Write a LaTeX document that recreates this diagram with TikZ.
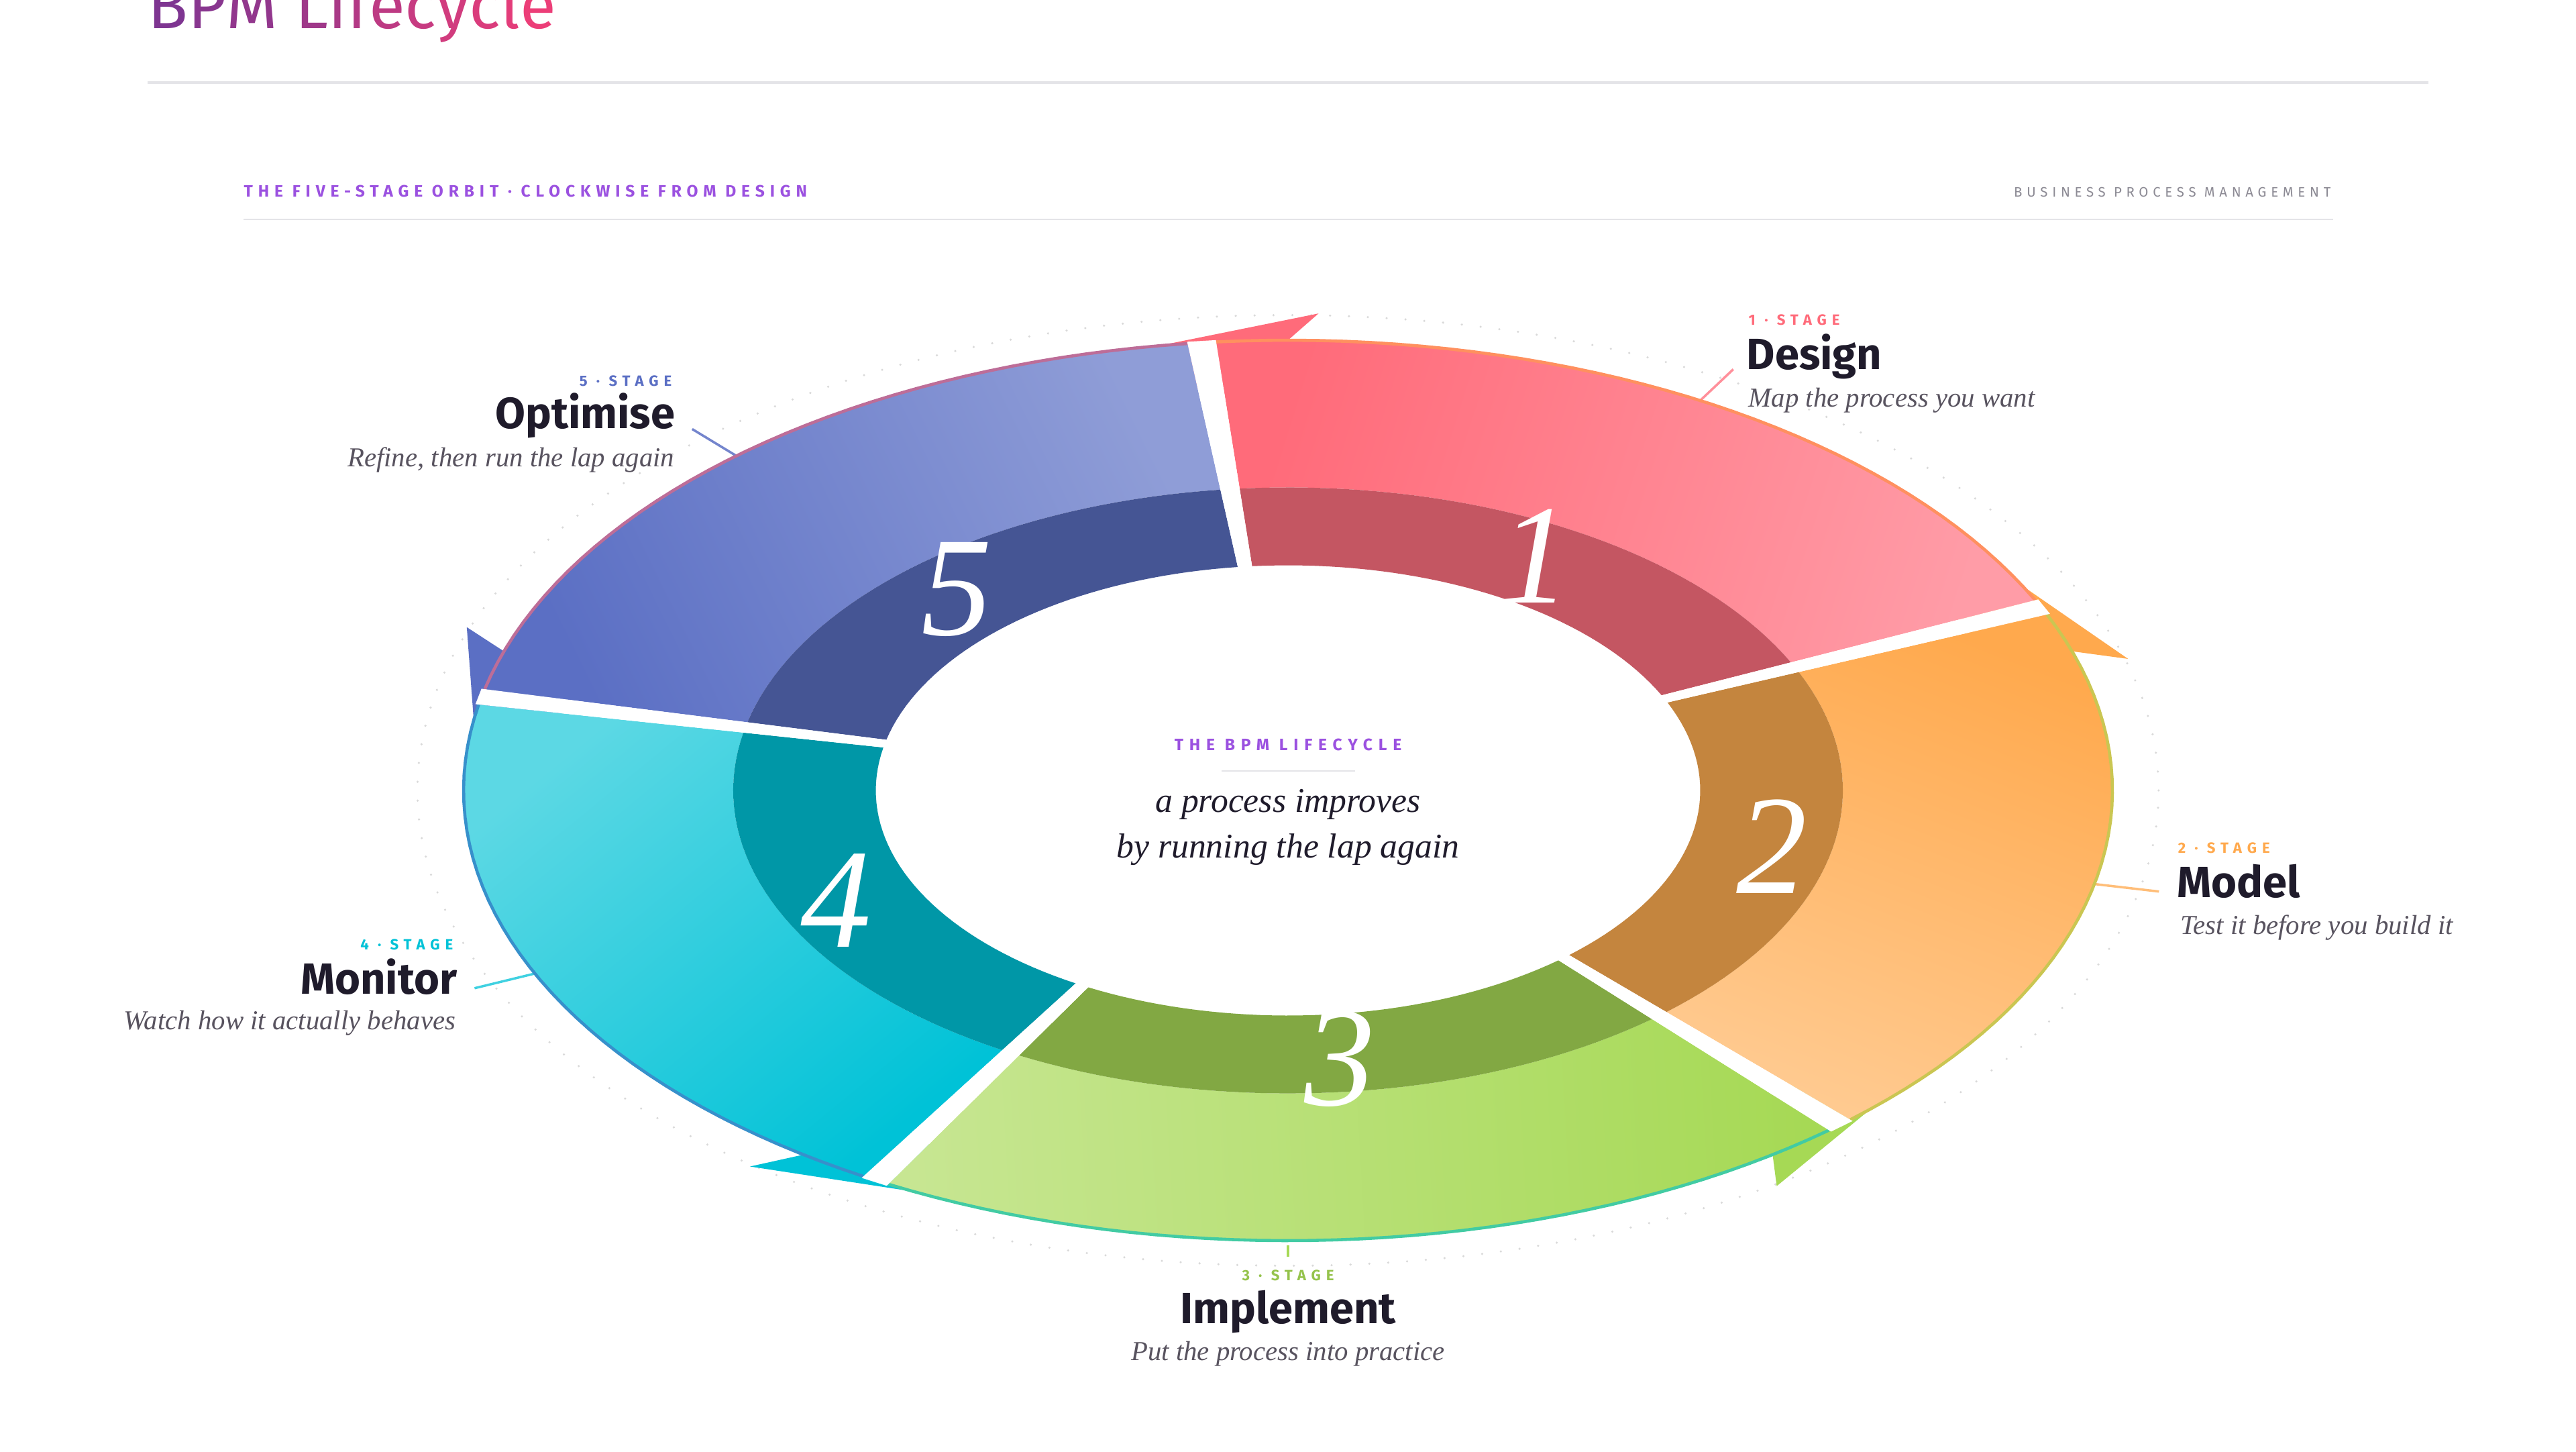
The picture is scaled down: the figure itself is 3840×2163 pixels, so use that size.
\documentclass[tikz,border=0pt]{standalone}
\usepackage{fontspec}
\setmainfont{Liberation Serif}
\setsansfont{Fira Sans}
\newfontfamily\tagfont{Fira Sans}[LetterSpace=36]
\newfontfamily\orbitfont{Fira Sans}[LetterSpace=32]
\newfontfamily\wideCaps{Fira Sans}[LetterSpace=33]
\definecolor{designA}{HTML}{FF6B7A}
\definecolor{designB}{HTML}{FF9CA7}
\definecolor{designD}{HTML}{C45662}
\definecolor{modelA}{HTML}{FFA94D}
\definecolor{modelB}{HTML}{FFCA90}
\definecolor{modelD}{HTML}{C4853E}
\definecolor{buildA}{HTML}{A6D955}
\definecolor{buildB}{HTML}{C7E692}
\definecolor{buildD}{HTML}{82A843}
\definecolor{watchA}{HTML}{00C2D7}
\definecolor{watchB}{HTML}{5CD8E4}
\definecolor{watchD}{HTML}{0097A7}
\definecolor{tuneA}{HTML}{5B6FC4}
\definecolor{tuneB}{HTML}{8F9DD7}
\definecolor{tuneD}{HTML}{455594}
\definecolor{inkColor}{HTML}{1F1B2B}
\definecolor{noteColor}{HTML}{58535F}
\definecolor{ruleColor}{HTML}{E4E4E8}
\definecolor{kickerColor}{HTML}{9B51E0}
\definecolor{greyCaps}{HTML}{8C8A94}
\definecolor{titleA}{HTML}{7E3591}
\definecolor{titleB}{HTML}{EC3E78}
% point on the tilted ring: angle, relative radius
\pgfmathdeclarefunction{ringx}{2}{\pgfmathparse{1920+1229*#2*cos(#1)}}
\pgfmathdeclarefunction{ringy}{2}{\pgfmathparse{1178-671*#2*sin(#1)}}

\begin{document}
\begin{tikzpicture}[x=0.01cm, y=-0.01cm,
    stagetag/.style={inner sep=0, font=\tagfont\bfseries\fontsize{6.3pt}{7pt}\selectfont},
    stagename/.style={inner sep=0, text=inkColor, font=\sffamily\bfseries\fontsize{18.5pt}{20pt}\selectfont},
    stagenote/.style={inner sep=0, text=noteColor, font=\itshape\fontsize{11.6pt}{13pt}\selectfont},
    lead/.style={line width=1pt},
    bignum/.style={inner sep=0, text=white, font=\itshape\fontsize{60pt}{60pt}\selectfont}]
    \useasboundingbox (0,0) rectangle (3840,2163);
    \fill[white] (0,0) rectangle (3840,2163);

    % Title
    \node[anchor=base west, inner sep=0, font=\sffamily\fontsize{28pt}{30pt}\selectfont] (title) at (220,42)
        {\textcolor{titleA}{B}\textcolor{titleB!9!titleA}{P}\textcolor{titleB!18!titleA}{M} \textcolor{titleB!30!titleA}{L}\textcolor{titleB!39!titleA}{i}\textcolor{titleB!48!titleA}{f}\textcolor{titleB!57!titleA}{e}\textcolor{titleB!66!titleA}{c}\textcolor{titleB!75!titleA}{y}\textcolor{titleB!84!titleA}{c}\textcolor{titleB!92!titleA}{l}\textcolor{titleB}{e}};
    \draw[ruleColor, line width=0.9pt] (220,123) -- (3620,123);

    % Header row
    \node[anchor=base west, inner sep=0, text=kickerColor, font=\orbitfont\bfseries\fontsize{7pt}{8pt}\selectfont] (orbit) at (363,293) {THE FIVE-STAGE ORBIT · CLOCKWISE FROM DESIGN};
    \node[anchor=base east, inner sep=0, text=greyCaps, font=\wideCaps\fontsize{5.8pt}{7pt}\selectfont] (bpm) at (3475,293) {BUSINESS PROCESS MANAGEMENT};
    \draw[ruleColor, line width=0.7pt] (363,327) -- (3478,327);

    % Guide orbit
    \draw[gray!30, line width=1pt, dash pattern=on 0pt off 8pt, line cap=round] (1920,1178) ellipse [x radius=12.97cm, y radius=7.08cm];

    % Leads (under the ring)
    \coordinate (designIn) at ({ringx(60,1)},{ringy(60,1)});
    \coordinate (designOut) at ({ringx(60,1.08)},{ringy(60,1.08)});
    \coordinate (modelIn) at ({ringx(-12,1)},{ringy(-12,1)});
    \coordinate (modelOut) at ({ringx(-12,1.08)},{ringy(-12,1.08)});
    \coordinate (buildIn) at ({ringx(-90,1.01)},{ringy(-90,1.01)});
    \coordinate (buildOut) at ({ringx(-90,1.035)},{ringy(-90,1.035)});
    \coordinate (watchIn) at ({ringx(-156,1)},{ringy(-156,1)});
    \coordinate (watchOut) at ({ringx(-156,1.08)},{ringy(-156,1.08)});
    \coordinate (tuneIn) at ({ringx(132,1)},{ringy(132,1)});
    \coordinate (tuneOut) at ({ringx(132,1.08)},{ringy(132,1.08)});
    \draw[lead, designA!75!white] (designIn) -- (designOut);
    \draw[lead, modelA!75!white] (modelIn) -- (modelOut);
    \draw[lead, buildA] (buildIn) -- (buildOut);
    \draw[lead, watchA!75!white] (watchIn) -- (watchOut);
    \draw[lead, tuneA!85!white] (tuneIn) -- (tuneOut);

    % Arrow heads, in the colour of the stage that follows
    \foreach \k/\cur/\nxt in {1/design/model,2/model/build,3/build/watch,4/watch/tune,5/tune/design}{
        \pgfmathsetmacro\h{24-72*(\k-1)}
        \colorlet{headC}{\nxt A}
        \fill[headC] ({ringx(\h+3,1)},{ringy(\h+3,1)})
            -- ({ringx(\h-8,1.06)},{ringy(\h-8,1.06)})
            -- ({ringx(\h-6,1)},{ringy(\h-6,1)})
            -- ({ringx(\h-6,0.9)},{ringy(\h-6,0.9)})
            -- ({ringx(\h+3,0.9)},{ringy(\h+3,0.9)}) -- cycle;
    }

    % Ring segments
    \foreach \k/\cur/\nxt in {1/design/model,2/model/build,3/build/watch,4/watch/tune,5/tune/design}{
        \pgfmathsetmacro\s{95-72*(\k-1)}
        \pgfmathsetmacro\e{\s-70}
        \pgfmathsetmacro\rot{atan2(ringy(\s,0.83)-ringy(\e,0.83),ringx(\e,0.83)-ringx(\s,0.83))-90}
        \colorlet{bandA}{\cur A}
        \colorlet{bandB}{\cur B}
        \colorlet{bandD}{\cur D}
        \colorlet{rimC}{\nxt A!60!\cur A}
        \path[bottom color=bandA, top color=bandB, shading angle=\rot]
            plot[domain=\s:\e, samples=40, variable=\t] ({ringx(\t,1)},{ringy(\t,1)})
            -- plot[domain=\e:\s, samples=40, variable=\t] ({ringx(\t,0.673)},{ringy(\t,0.673)}) -- cycle;
        \fill[bandD]
            plot[domain=\s:\e, samples=40, variable=\t] ({ringx(\t,0.673)},{ringy(\t,0.673)})
            -- plot[domain=\e:\s, samples=40, variable=\t] ({ringx(\t,0.5)},{ringy(\t,0.5)}) -- cycle;
        \draw[rimC, line width=1.3pt] plot[domain=\s:\e, samples=40, variable=\t] ({ringx(\t,1)},{ringy(\t,1)});
    }

    % Gaps between stages
    \foreach \g in {96,24,-48,-120,168}{
        \fill[white] ({ringx(\g+1,0.48)},{ringy(\g+1,0.48)}) -- ({ringx(\g+1,1.004)},{ringy(\g+1,1.004)})
            -- ({ringx(\g-1,1.004)},{ringy(\g-1,1.004)}) -- ({ringx(\g-1,0.48)},{ringy(\g-1,0.48)}) -- cycle;
    }

    % Stage numbers
    \foreach \k in {1,...,5}{
        \pgfmathsetmacro\m{60-72*(\k-1)}
        \node[bignum] (num\k) at ({ringx(\m,0.6)},{ringy(\m,0.6)}) {\k};
    }

    % Hub text
    \node[anchor=base, inner sep=0, text=kickerColor, font=\tagfont\bfseries\fontsize{7pt}{8pt}\selectfont] (hubTag) at (1920,1118) {THE BPM LIFECYCLE};
    \draw[ruleColor, line width=0.8pt] (1821,1149) -- (2020,1149);
    \node[anchor=base, inner sep=0, text=inkColor, font=\itshape\fontsize{14.7pt}{16pt}\selectfont] (hubA) at (1920,1210) {a process improves};
    \node[anchor=base, inner sep=0, text=inkColor, font=\itshape\fontsize{14.7pt}{16pt}\selectfont] (hubB) at (1920,1278) {by running the lap again};

    % 1 Design
    \node[stagetag, anchor=base west, text=designA] (designTag) at (2606,484) {1 · STAGE};
    \node[stagename, anchor=base west] (designName) at (2603,550) {Design};
    \node[stagenote, anchor=base west] (designNote) at (2606,606) {Map the process you want};

    % 2 Model
    \node[stagetag, anchor=base west, text=modelA] (modelTag) at (3246,1271) {2 · STAGE};
    \node[stagename, anchor=base west] (modelName) at (3245,1337) {Model};
    \node[stagenote, anchor=base west] (modelNote) at (3250,1392) {Test it before you build it};

    % 3 Implement
    \node[stagetag, anchor=base, text=buildA!90!black] (buildTag) at (1920,1908) {3 · STAGE};
    \node[stagename, anchor=base] (buildName) at (1920,1972) {Implement};
    \node[stagenote, anchor=base] (buildNote) at (1920,2027) {Put the process into practice};

    % 4 Monitor
    \node[stagetag, anchor=base east, text=watchA] (watchTag) at (676,1415) {4 · STAGE};
    \node[stagename, anchor=base east] (watchName) at (682,1481) {Monitor};
    \node[stagenote, anchor=base east] (watchNote) at (680,1534) {Watch how it actually behaves};

    % 5 Optimise
    \node[stagetag, anchor=base east, text=tuneA] (tuneTag) at (1002,575) {5 · STAGE};
    \node[stagename, anchor=base east] (tuneName) at (1007,638) {Optimise};
    \node[stagenote, anchor=base east] (tuneNote) at (1006,695) {Refine, then run the lap again};
\end{tikzpicture}
\end{document}
